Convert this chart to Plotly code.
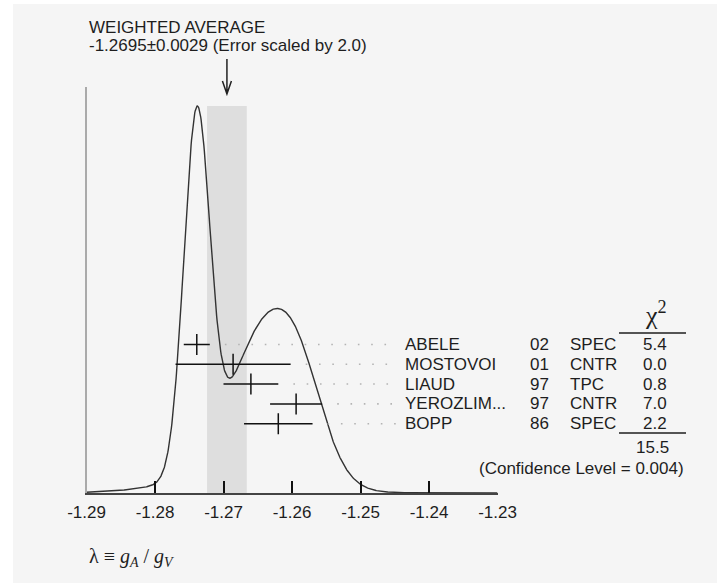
import numpy as np
import plotly.graph_objects as go

# Measurements of lambda = gA / gV entering the average
experiments = ["ABELE", "MOSTOVOI", "LIAUD", "YEROZLIM...", "BOPP"]
years = ["02", "01", "97", "97", "86"]
techniques = ["SPEC", "CNTR", "TPC", "CNTR", "SPEC"]
values = [-1.2739, -1.2686, -1.2660, -1.2594, -1.2620]
errors = [0.0019, 0.0084, 0.0040, 0.0038, 0.0050]
chi2 = [5.4, 0.0, 0.8, 7.0, 2.2]
chi2_total = 15.5
confidence_level = 0.004

# Weighted average (error scaled by S)
avg = -1.2695
avg_err = 0.0029
error_scale = 2.0

tick_vals = [-1.29, -1.28, -1.27, -1.26, -1.25, -1.24, -1.23]
tick_labels = ["-1.29", "-1.28", "-1.27", "-1.26", "-1.25", "-1.24", "-1.23"]

W, H = 717, 583
ML, MR = 40, 40          # horizontal margins; paper x spans W - ML - MR pixels
PW = W - ML - MR
FONT = "Liberation Sans, Arial, sans-serif"
SERIF = "Liberation Serif, Times New Roman, serif"
INK = "#1e1e1e"


def fx(px):
    """Figure pixel column -> paper x."""
    return (px - ML) / PW


def fy(py):
    """Figure pixel row (from top) -> paper y."""
    return 1 - py / H


# Ideogram: one Gaussian per measurement, area proportional to 1/sigma
xs = np.linspace(tick_vals[0], tick_vals[-1], 901)
ideo = np.zeros_like(xs)
for v, s in zip(values, errors):
    ideo += (1.0 / s) * np.exp(-0.5 * ((xs - v) / s) ** 2) / (s * np.sqrt(2 * np.pi))
ideo /= ideo.max()

rows = list(range(len(experiments)))

fig = go.Figure()

# ideogram curve
fig.add_trace(go.Scatter(
    x=xs, y=ideo, mode="lines",
    line=dict(color="#333333", width=1.4),
    hoverinfo="skip", showlegend=False,
))

# dotted leaders from each measurement to its label
for i, (v, s) in enumerate(zip(values, errors)):
    fig.add_trace(go.Scatter(
        x=[v + s + 0.0022, -1.2446], y=[i, i], mode="lines", yaxis="y2",
        line=dict(color="#b4b4b4", width=1.6, dash="1.6px,11.7px"),
        hoverinfo="skip", showlegend=False,
    ))

# measurements with horizontal error bars and a central tick
fig.add_trace(go.Scatter(
    x=values, y=rows, mode="markers", yaxis="y2",
    marker=dict(symbol="line-ns", size=15, line=dict(color="#111111", width=1.5)),
    error_x=dict(type="data", array=errors, visible=True, color="#111111",
                 thickness=1.5, width=0),
    hoverinfo="skip", showlegend=False,
))

shapes = [
    # light panel
    dict(type="rect", xref="paper", yref="paper", x0=fx(13), x1=fx(W), y0=0, y1=fy(4),
         fillcolor="#f5f5f5", line=dict(width=0), layer="below"),
    # band of the weighted average +- error
    dict(type="rect", xref="x", yref="y", x0=avg - avg_err, x1=avg + avg_err,
         y0=0, y1=1.0, fillcolor="#dedede", line=dict(width=0), layer="below"),
    # arrow pointing at the average
    dict(type="path", xref="x", yref="paper", xsizemode="pixel", ysizemode="pixel",
         xanchor=avg, yanchor=fy(94),
         path="M0,35 L0,0 M-4.5,13 L0,0 L4.5,13",
         line=dict(color="#222222", width=1.5)),
    # chi-square column rules
    dict(type="line", xref="paper", yref="paper", x0=fx(619), x1=fx(686),
         y0=fy(333), y1=fy(333), line=dict(color=INK, width=1.5)),
    dict(type="line", xref="paper", yref="paper", x0=fx(619), x1=fx(686),
         y0=fy(433), y1=fy(433), line=dict(color=INK, width=1.5)),
]

annotations = [
    dict(text="WEIGHTED AVERAGE", x=fx(87), y=fy(28), xref="paper", yref="paper",
         xanchor="left", yanchor="middle", showarrow=False,
         font=dict(family=FONT, size=17, color=INK)),
    dict(text=f"{avg:.4f}\u00b1{avg_err:.4f} (Error scaled by {error_scale:.1f})",
         x=fx(87), y=fy(45), xref="paper", yref="paper",
         xanchor="left", yanchor="middle", showarrow=False,
         font=dict(family=FONT, size=17, color=INK)),
    dict(text="\u03c7<sup>2</sup>", x=fx(656), y=fy(314), xref="paper", yref="paper",
         xanchor="center", yanchor="middle", showarrow=False,
         font=dict(family=SERIF, size=26, color=INK)),
    dict(text=f"{chi2_total:.1f}", x=fx(652), y=fy(447), xref="paper", yref="paper",
         xanchor="center", yanchor="middle", showarrow=False,
         font=dict(family=FONT, size=17, color=INK)),
    dict(text=f"(Confidence Level = {confidence_level:.3f})", x=fx(686), y=fy(468),
         xref="paper", yref="paper", xanchor="right", yanchor="middle", showarrow=False,
         font=dict(family=FONT, size=17, color=INK)),
    dict(text="\u03bb \u2261 <i>g</i><sub><i>A</i></sub> / <i>g</i><sub><i>V</i></sub>",
         x=fx(87), y=fy(557), xref="paper", yref="paper",
         xanchor="left", yanchor="middle", showarrow=False,
         font=dict(family=SERIF, size=20, color=INK)),
]

for i in rows:
    for txt, px, anchor in [
        (experiments[i], 403, "left"),
        (years[i], 527.5, "left"),
        (techniques[i], 567.5, "left"),
        (f"{chi2[i]:.1f}", 654.5, "center"),
    ]:
        annotations.append(dict(
            text=txt, x=fx(px), y=i, xref="paper", yref="y2",
            xanchor=anchor, yanchor="middle", showarrow=False,
            font=dict(family=FONT, size=17, color=INK),
        ))

fig.update_layout(
    width=W, height=H, autosize=False,
    margin=dict(l=ML, r=MR, t=0, b=0, autoexpand=False),
    paper_bgcolor="white", plot_bgcolor="rgba(0,0,0,0)",
    font=dict(family=FONT, size=17, color=INK),
    xaxis=dict(
        domain=[fx(86.5), fx(497.5)], range=[tick_vals[0], tick_vals[-1]],
        tickmode="array", tickvals=tick_vals, ticktext=tick_labels,
        ticks="inside", ticklen=12, tickwidth=1.5, tickcolor="#111111",
        ticklabelstandoff=3,
        showline=True, linecolor="#444444", linewidth=1.5,
        showgrid=False, zeroline=False, fixedrange=True, automargin=False,
        tickfont=dict(family=FONT, size=17, color=INK),
    ),
    yaxis=dict(
        domain=[fy(493), fy(87)], range=[0, 406 / 387],
        showline=True, linecolor="#aaaaaa", linewidth=2,
        showticklabels=False, ticks="", showgrid=False, zeroline=False,
        fixedrange=True, automargin=False,
    ),
    yaxis2=dict(
        overlaying="y", range=[7.5, -13.0], visible=False, fixedrange=True,
        automargin=False,
    ),
    shapes=shapes,
    annotations=annotations,
    showlegend=False,
)

fig.write_html("out.html")
